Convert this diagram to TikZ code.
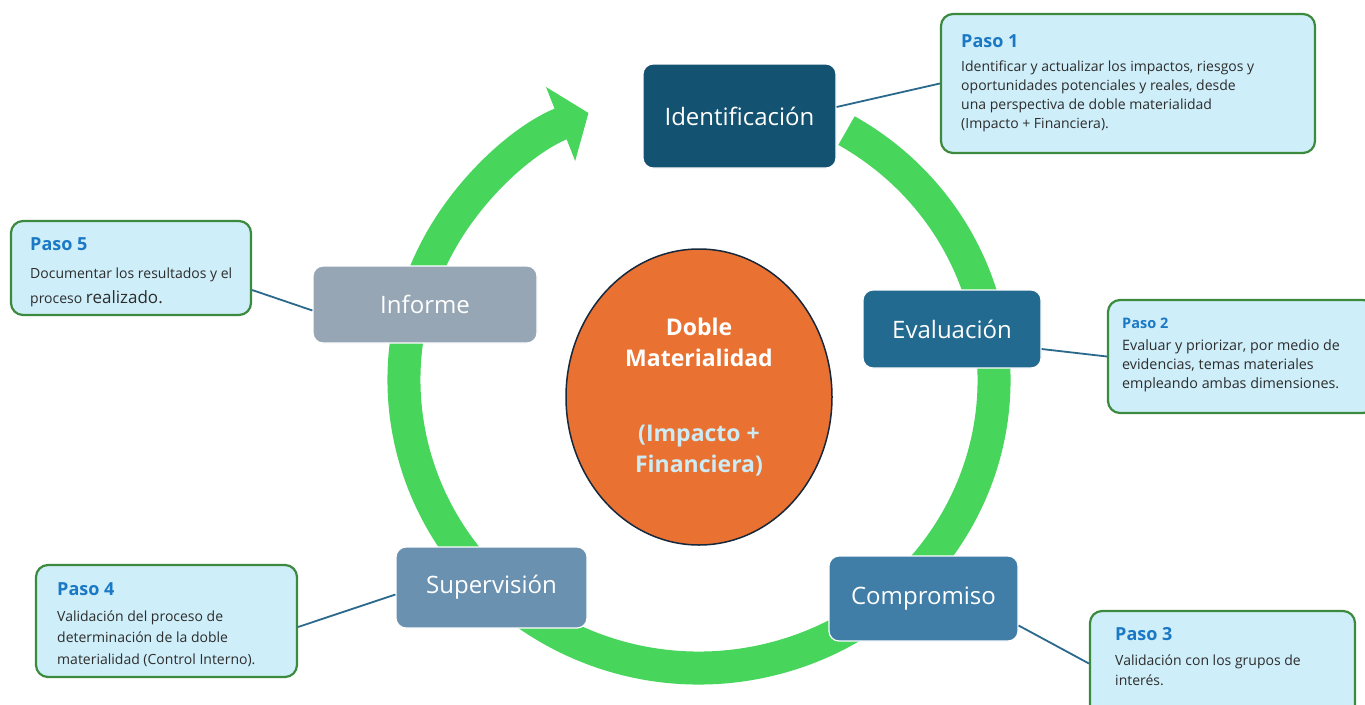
\documentclass[tikz,border=0pt]{standalone}
\usepackage{fontspec}
\setmainfont{Open Sans}
\newfontfamily\lblfont{Open Sans}
\usetikzlibrary{arrows.meta,shapes.geometric}
\definecolor{ringgreen}{RGB}{72,213,92}
\definecolor{cA}{RGB}{19,82,112}
\definecolor{cB}{RGB}{34,106,143}
\definecolor{cC}{RGB}{64,126,168}
\definecolor{cD}{RGB}{106,145,176}
\definecolor{cE}{RGB}{150,166,181}
\definecolor{orangefill}{RGB}{233,114,50}
\definecolor{ellborder}{RGB}{22,40,60}
\definecolor{pasofill}{RGB}{206,238,249}
\definecolor{pasoborder}{RGB}{60,138,62}
\definecolor{headblue}{RGB}{26,120,196}
\definecolor{bodygray}{RGB}{45,45,45}
\definecolor{conncol}{RGB}{42,105,140}
\definecolor{lightbluetext}{RGB}{205,235,245}
\tikzset{
 lbl/.style={rounded corners=10pt, draw=white, line width=1.2pt, text=white, font=\lblfont\fontsize{24}{28}\selectfont, inner sep=0pt},
 paso/.style={rounded corners=12pt, draw=pasoborder, line width=2.2pt, fill=pasofill, inner sep=0pt},
 head/.style={anchor=base west, inner sep=0pt, text=headblue, font=\lblfont\bfseries\fontsize{18}{20}\selectfont},
 body/.style={anchor=base west, inner sep=0pt, align=left, text=bodygray},
 conn/.style={draw=conncol, line width=1.8pt},
 ring/.style={draw=ringgreen, line width=33pt, -{Triangle[width=78pt,length=30pt]}}
}
\begin{document}
\begin{tikzpicture}[x=1pt,y=1pt]
\fill[white] (0,0) rectangle (1365,-704);
\useasboundingbox (0,0) rectangle (1365,-704);
% ring
\coordinate (c) at (699,-380);
\draw[ring] ([shift={(60:295 and 288)}]c) arc[start angle=60, end angle=-248, x radius=295, y radius=288];
% step boxes
\node[paso, minimum width=374, minimum height=139] (p1) at (1128,-83.5) {};
\node[paso, minimum width=267, minimum height=113] (p2) at (1241.5,-356.5) {};
\node[paso, minimum width=265, minimum height=109] (p3) at (1222.5,-665.5) {};
\node[paso, minimum width=261, minimum height=112] (p4) at (166.5,-621) {};
\node[paso, minimum width=240, minimum height=94] (p5) at (131,-268) {};
% stage boxes
\node[lbl, fill=cA, minimum width=193, minimum height=104] (ident) at (739.5,-116) {Identificación};
\node[lbl, fill=cB, minimum width=178, minimum height=78] (eval) at (952,-329) {Evaluación};
\node[lbl, fill=cC, minimum width=189, minimum height=85] (comp) at (923.5,-598.5) {Compromiso};
\node[lbl, fill=cD, minimum width=191, minimum height=81] (sup) at (491.5,-587.5) {Supervisión};
\node[lbl, fill=cE, minimum width=224, minimum height=77] (inf) at (425,-304.5) {Informe};
% connectors
\draw[conn] ([yshift=9]ident.east) -- (p1.west);
\draw[conn] ([yshift=-20]eval.east) -- (p2.west);
\draw[conn] ([yshift=-27]comp.east) -- ([yshift=2]p3.west);
\draw[conn] ([yshift=-7]sup.west) -- ([yshift=-6]p4.east);
\draw[conn] ([yshift=-6]inf.west) -- ([yshift=-22]p5.east);
% centre
\node[ellipse, draw=ellborder, line width=1.5pt, fill=orangefill, minimum width=266, minimum height=296, inner sep=0pt,
  align=center, text=white, font=\lblfont\bfseries\fontsize{23}{30.5}\selectfont] (core) at (699,-397)
  {Doble\\Materialidad\\[45pt]\textcolor{lightbluetext}{(Impacto +}\\\textcolor{lightbluetext}{Financiera)}};
% step texts (anchor = baseline of last line)
\node[head] (h1) at (961,-47) {Paso 1};
\node[body, font=\fontsize{14}{18.7}\selectfont] (b1) at (961,-128)
  {Identificar y actualizar los impactos, riesgos y\\oportunidades potenciales y reales, desde\\una perspectiva de doble materialidad\\(Impacto + Financiera).};
\node[head, font=\lblfont\bfseries\fontsize{14.5}{17}\selectfont] (h2) at (1122,-328) {Paso 2};
\node[body, font=\fontsize{14.3}{19}\selectfont] (b2) at (1122,-388)
  {Evaluar y priorizar, por medio de\\evidencias, temas materiales\\empleando ambas dimensiones.};
\node[head] (h3) at (1115,-640) {Paso 3};
\node[body, font=\fontsize{14}{20}\selectfont] (b3) at (1115,-685)
  {Validación con los grupos de\\interés.};
\node[head] (h4) at (57,-595) {Paso 4};
\node[body, font=\fontsize{14}{21.5}\selectfont] (b4) at (57,-664)
  {Validación del proceso de\\determinación de la doble\\materialidad (Control Interno).};
\node[head] (h5) at (30,-250) {Paso 5};
\node[body, font=\fontsize{14}{25}\selectfont] (b5) at (30,-303)
  {Documentar los resultados y el\\proceso {\fontsize{17}{25}\selectfont realizado.}};
\end{tikzpicture}
\end{document}
